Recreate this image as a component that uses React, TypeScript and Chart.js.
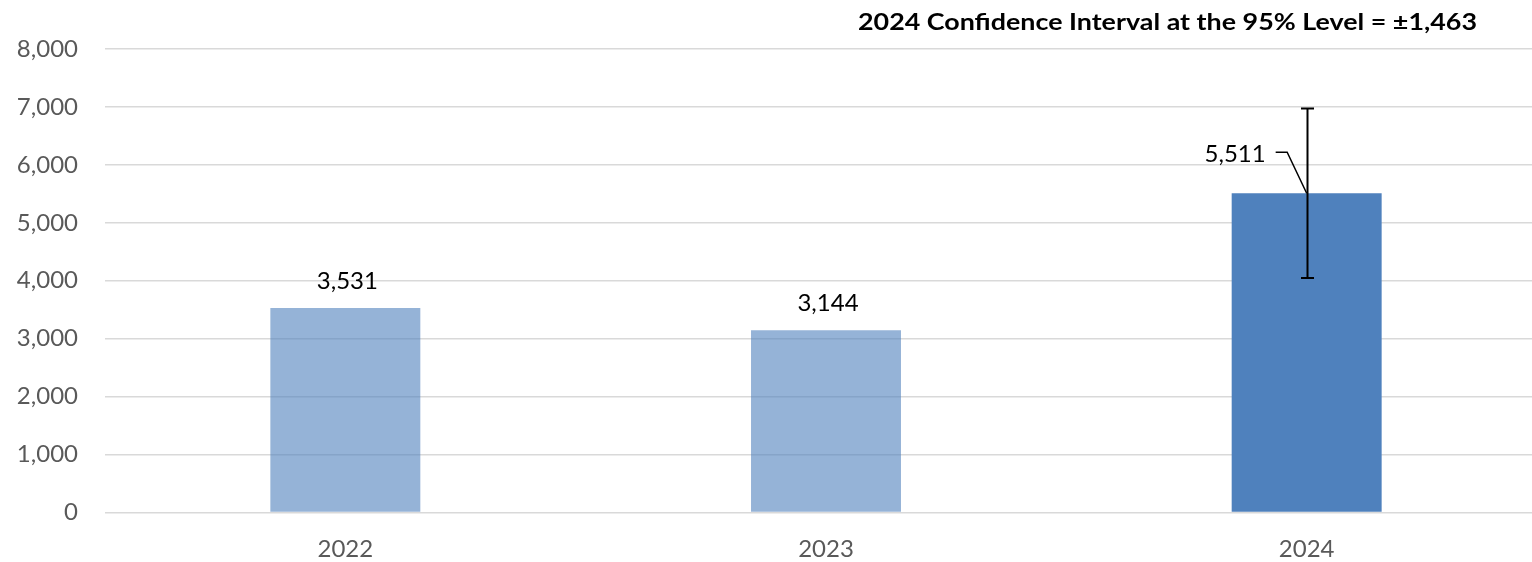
import React, { useEffect, useRef } from "react";
import { Chart, registerables } from "chart.js";

Chart.register(...registerables);

const categories = ["2022", "2023", "2024"];
const values = [3531, 3144, 5511];
const confidence = [null, null, 1463];
const barColors = ["rgba(79,129,189,0.6)", "rgba(79,129,189,0.6)", "#4F81BD"];
const yTicks = [0, 1000, 2000, 3000, 4000, 5000, 6000, 7000, 8000];
const titleText = "2024 Confidence Interval at the 95% Level = \u00B11,463";

const FONT = "Lato, 'Open Sans', sans-serif";
const fmt = (v: number) => v.toLocaleString("en-US");

const overlayPlugin = {
  id: "overlay",
  afterDatasetsDraw(chart: any) {
    const ctx = chart.ctx;
    const meta = chart.getDatasetMeta(0);
    const yScale = chart.scales.y;
    ctx.save();
    // error bars
    meta.data.forEach((bar: any, i: number) => {
      const ci = confidence[i];
      if (ci == null) return;
      const x = Math.round(bar.x) + 0.5;
      const yTop = yScale.getPixelForValue(values[i] + ci);
      const yBot = yScale.getPixelForValue(values[i] - ci);
      ctx.strokeStyle = "#000";
      ctx.lineWidth = 2;
      ctx.beginPath();
      ctx.moveTo(x, yTop);
      ctx.lineTo(x, yBot);
      ctx.moveTo(x - 6.5, yTop);
      ctx.lineTo(x + 6.5, yTop);
      ctx.moveTo(x - 6.5, yBot);
      ctx.lineTo(x + 6.5, yBot);
      ctx.stroke();
    });
    // data labels
    ctx.font = `24px ${FONT}`;
    ctx.fillStyle = "#000";
    ctx.textBaseline = "alphabetic";
    meta.data.forEach((bar: any, i: number) => {
      const text = fmt(values[i]);
      if (confidence[i] == null) {
        ctx.textAlign = "center";
        ctx.fillText(text, bar.x + 2, bar.y - 19);
      } else {
        ctx.textAlign = "right";
        const rx = bar.x - 41;
        const by = bar.y - 31;
        ctx.fillText(text, rx, by);
        ctx.strokeStyle = "#000";
        ctx.lineWidth = 1.5;
        ctx.beginPath();
        ctx.moveTo(rx + 10, by - 10);
        ctx.lineTo(rx + 21.5, by - 10);
        ctx.lineTo(bar.x, bar.y);
        ctx.stroke();
      }
    });
    // title
    ctx.font = `bold 23px ${FONT}`;
    ctx.textAlign = "left";
    const w = ctx.measureText(titleText).width;
    const targetW = 619;
    const sx = targetW / w;
    ctx.translate(1477 - targetW, 29.5);
    ctx.scale(sx, 1);
    ctx.fillText(titleText, 0, 0);
    ctx.restore();
  },
};

export default function App() {
  const ref = useRef<HTMLCanvasElement | null>(null);
  useEffect(() => {
    if (!ref.current) return;
    const chart = new Chart(ref.current, {
      type: "bar",
      data: {
        labels: categories,
        datasets: [
          {
            data: values,
            backgroundColor: barColors,
            borderWidth: 0,
            categoryPercentage: 1,
            barPercentage: 0.312,
          },
        ],
      },
      options: {
        responsive: false,
        devicePixelRatio: 1,
        animation: false,
        layout: { padding: { top: 49, left: 0, right: 0, bottom: 0 } },
        plugins: {
          legend: { display: false },
          tooltip: { enabled: false },
          title: { display: false },
        },
        scales: {
          x: {
            grid: { display: false, drawTicks: false },
            border: { display: false },
            ticks: {
              color: "#595959",
              font: { family: FONT, size: 24 },
              padding: 22,
            },
            afterFit: (s: any) => {
              s.height = 49.5;
            },
          },
          y: {
            min: 0,
            max: 8000,
            afterBuildTicks: (s: any) => {
              s.ticks = yTicks.map((v) => ({ value: v }));
            },
            grid: { color: "#D9D9D9", lineWidth: 1.5, drawTicks: false },
            border: { display: false },
            ticks: {
              color: "#595959",
              font: { family: FONT, size: 24 },
              padding: 27,
              callback: (v: any) => fmt(Number(v)),
            },
            afterFit: (s: any) => {
              s.width = 105;
            },
          },
        },
      },
      plugins: [overlayPlugin],
    });
    return () => chart.destroy();
  }, []);
  return (
    <div
      style={{
        position: "fixed",
        left: 0,
        top: 0,
        width: 1532,
        height: 562,
        overflow: "hidden",
        background: "#fff",
      }}
    >
      <canvas ref={ref} width={1547} height={562} style={{ display: "block" }} />
    </div>
  );
}
